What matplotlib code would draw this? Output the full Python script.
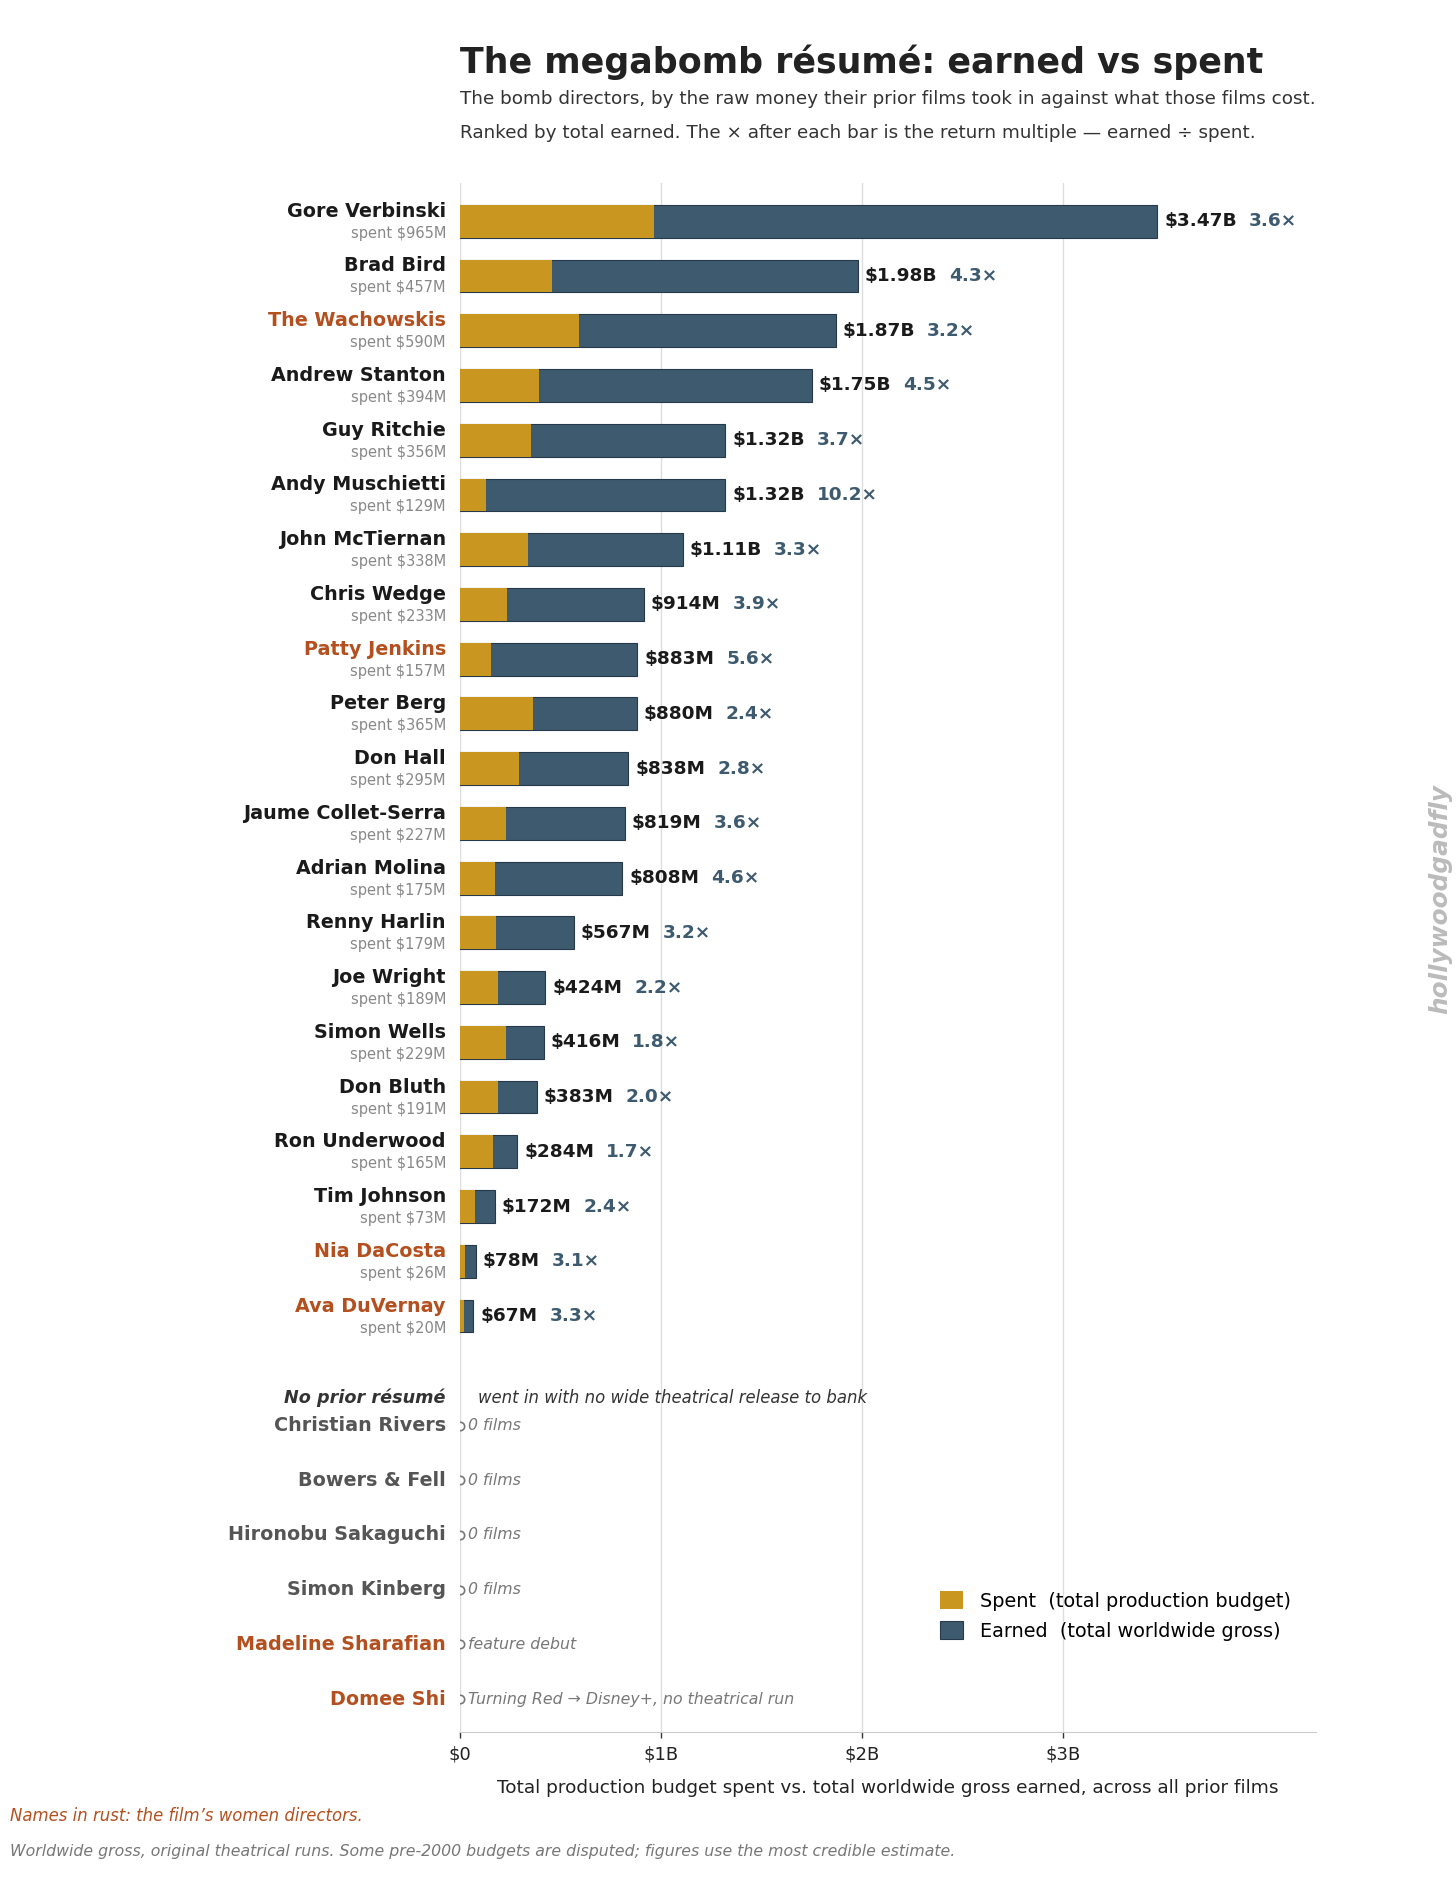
import matplotlib
matplotlib.use('Agg')
import matplotlib.pyplot as plt
from matplotlib.patches import Patch

plt.rcParams['font.family'] = ['DejaVu Sans']

# bomb directors, ranked by total earned across prior films
directors = ['Gore Verbinski', 'Brad Bird', 'The Wachowskis', 'Andrew Stanton',
             'Guy Ritchie', 'Andy Muschietti', 'John McTiernan', 'Chris Wedge',
             'Patty Jenkins', 'Peter Berg', 'Don Hall', 'Jaume Collet-Serra',
             'Adrian Molina', 'Renny Harlin', 'Joe Wright', 'Simon Wells',
             'Don Bluth', 'Ron Underwood', 'Tim Johnson', 'Nia DaCosta',
             'Ava DuVernay']
spent_m = [965, 457, 590, 394, 356, 129, 338, 233, 157, 365, 295, 227,
           175, 179, 189, 229, 191, 165, 73, 26, 20]
earned_m = [3470, 1980, 1870, 1750, 1320, 1320, 1110, 914, 883, 880, 838,
            819, 808, 567, 424, 416, 383, 284, 172, 78, 67]
multiples = [3.6, 4.3, 3.2, 4.5, 3.7, 10.2, 3.3, 3.9, 5.6, 2.4, 2.8, 3.6,
             4.6, 3.2, 2.2, 1.8, 2.0, 1.7, 2.4, 3.1, 3.3]

# directors with no prior theatrical resume
no_resume = ['Christian Rivers', 'Bowers & Fell', 'Hironobu Sakaguchi',
             'Simon Kinberg', 'Madeline Sharafian', 'Domee Shi']
no_resume_notes = ['0 films', '0 films', '0 films', '0 films',
                   'feature debut', 'Turning Red \u2192 Disney+, no theatrical run']

women = ['The Wachowskis', 'Patty Jenkins', 'Nia DaCosta', 'Ava DuVernay',
         'Madeline Sharafian', 'Domee Shi']

GOLD = '#C99720'
BLUE = '#3D5A6F'
RUST = '#B4501F'

fig = plt.figure(figsize=(14.56, 18.8), dpi=100)
ax = fig.add_axes([0.3159, 0.0787, 0.5879, 0.824])

rows = list(range(len(directors)))
earned_b = [e / 1000 for e in earned_m]
spent_b = [s / 1000 for s in spent_m]

ax.barh(rows, earned_b, height=0.6, color=BLUE, edgecolor='#26394a',
        linewidth=0.8, zorder=2)
ax.barh(rows, spent_b, height=0.6, color=GOLD, edgecolor='none', zorder=3)

for i, name in enumerate(directors):
    col = RUST if name in women else '#1a1a1a'
    ax.annotate(name, xy=(0, i), xycoords=('axes fraction', 'data'),
                xytext=(-14, 10), textcoords='offset pixels', ha='right',
                va='center', fontsize=13.8, fontweight='bold', color=col)
    ax.annotate(f'spent ${spent_m[i]}M', xy=(0, i),
                xycoords=('axes fraction', 'data'), xytext=(-14, -12),
                textcoords='offset pixels', ha='right', va='center',
                fontsize=10.5, color='#888888')
    e = earned_m[i]
    lbl = f'${e / 1000:.2f}B' if e >= 1000 else f'${e}M'
    t = ax.annotate(lbl, xy=(earned_b[i], i), xytext=(7, 0),
                    textcoords='offset pixels', ha='left', va='center',
                    fontsize=13.3, fontweight='bold', color='#1a1a1a')
    ax.annotate(f'{multiples[i]:.1f}\u00d7', xy=(1, i), xycoords=(t, 'data'),
                xytext=(12, 0), textcoords='offset pixels', ha='left',
                va='center', fontsize=13.3, fontweight='bold', color=BLUE)

# no prior resume block
header_y = len(directors) + 0.5
ax.annotate('No prior r\u00e9sum\u00e9', xy=(0, header_y),
            xycoords=('axes fraction', 'data'), xytext=(-14, 0),
            textcoords='offset pixels', ha='right', va='center', fontsize=12.7,
            fontweight='bold', fontstyle='italic', color='#333333')
ax.annotate('went in with no wide theatrical release to bank', xy=(0, header_y),
            xycoords=('axes fraction', 'data'), xytext=(18, 0),
            textcoords='offset pixels', ha='left', va='center', fontsize=11.9,
            fontstyle='italic', color='#333333')

for j, name in enumerate(no_resume):
    y = len(directors) + 1 + j
    col = RUST if name in women else '#555555'
    ax.annotate(name, xy=(0, y), xycoords=('axes fraction', 'data'),
                xytext=(-14, 0), textcoords='offset pixels', ha='right',
                va='center', fontsize=13.8, fontweight='bold', color=col)
    ax.plot(0, y, 'o', ms=6, mfc='white', mec='#777777', mew=1.2, zorder=4)
    ax.annotate(no_resume_notes[j], xy=(0, y), xytext=(8, 0),
                textcoords='offset pixels', ha='left', va='center',
                fontsize=11.3, fontstyle='italic', color='#777777')

ax.set_xlim(0, 4.26)
ax.set_ylim(len(directors) + len(no_resume) + 0.6, -0.7)
ax.set_yticks([])
ax.set_xticks([0, 1, 2, 3])
ax.set_xticklabels(['$0', '$1B', '$2B', '$3B'])
ax.tick_params(axis='x', length=4, width=1, color='#333333', labelsize=13,
               labelcolor='#222222', pad=6)
ax.grid(axis='x', color='#dddddd', linewidth=1, zorder=0)
ax.set_axisbelow(True)
for s in ['top', 'right', 'left']:
    ax.spines[s].set_visible(False)
ax.spines['bottom'].set_color('#cccccc')
ax.set_xlabel('Total production budget spent vs. total worldwide gross earned, '
              'across all prior films', fontsize=13.3, color='#222222',
              labelpad=11)

handles = [Patch(facecolor=GOLD, edgecolor='none'),
           Patch(facecolor=BLUE, edgecolor='#26394a', linewidth=0.8)]
ax.legend(handles, ['Spent  (total production budget)',
                    'Earned  (total worldwide gross)'],
          loc='lower left', bbox_to_anchor=(0.541, 0.0477), frameon=False,
          fontsize=13.9, handlelength=1.17, handleheight=1.05,
          handletextpad=0.87, labelspacing=0.55)

fig.text(0.3159, 0.967, 'The megabomb r\u00e9sum\u00e9: earned vs spent',
         fontsize=25.1, fontweight='bold', color='#222222', va='center')
fig.text(0.3159, 0.9475, 'The bomb directors, by the raw money their prior films '
         'took in against what those films cost.', fontsize=13.2,
         color='#333333', va='center')
fig.text(0.3159, 0.929, 'Ranked by total earned. The \u00d7 after each bar is the '
         'return multiple \u2014 earned \u00f7 spent.', fontsize=13.2,
         color='#333333', va='center')

fig.text(0.007, 0.034, 'Names in rust: the film\u2019s women directors.',
         fontsize=11.9, fontstyle='italic', color=RUST, va='center')
fig.text(0.007, 0.015, 'Worldwide gross, original theatrical runs. Some pre-2000 '
         'budgets are disputed; figures use the most credible estimate.',
         fontsize=11.3, fontstyle='italic', color='#777777', va='center')

fig.text(0.989, 0.522, 'hollywoodgadfly', rotation=90, fontsize=17.8,
         fontweight='bold', fontstyle='italic', color='#bbbbbb',
         ha='center', va='center')

fig.savefig('out.png', dpi=100, facecolor='white')
